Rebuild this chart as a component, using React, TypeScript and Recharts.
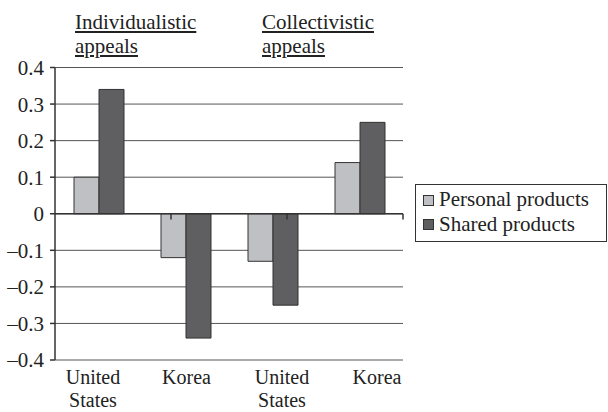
import React from 'react';
import { BarChart, Bar, XAxis, YAxis, CartesianGrid, ReferenceLine, Legend } from 'recharts';

const categories = ['United States', 'Korea', 'United States', 'Korea'];
const personalProducts = [0.1, -0.12, -0.13, 0.14];
const sharedProducts = [0.34, -0.34, -0.25, 0.25];
const yTicks = [-0.4, -0.3, -0.2, -0.1, 0, 0.1, 0.2, 0.3, 0.4];
const groupHeaders = [['Individualistic', 'appeals'], ['Collectivistic', 'appeals']];
const seriesNames = ['Personal products', 'Shared products'];
const seriesColors = ['#bfc0c4', '#5f5f61'];
const boundaries = [1, 2, 3, 4];
const labelShift = [-5.5, 1, 9.5, 17.5];
const headerLeft = [75, 262];

const data = categories.map((c, i) => ({
  key: 'c' + i,
  personal: personalProducts[i],
  shared: sharedProducts[i],
}));

const FONT = "'Liberation Serif', Tinos, 'Times New Roman', Times, 'DejaVu Serif', 'Noto Serif', serif";

const fmt = (v: number) => {
  if (v === 0) return '0';
  const s = Math.abs(v).toFixed(1);
  return v < 0 ? '\u2013' + s : s;
};

const XTick = (props: any) => {
  const { x, y, payload } = props;
  const idx = Number(String(payload.value).slice(1));
  const lines = categories[idx].split(' ');
  const cx = x + labelShift[idx];
  return (
    <text x={cx} y={y} textAnchor="middle" style={{ fontFamily: FONT }} fontSize={20} fill="#222">
      {lines.map((l, i) => (
        <tspan key={i} x={cx} y={y + 23.5 + i * 23}>
          {l}
        </tspan>
      ))}
    </text>
  );
};

const LegendContent = () => (
  <div
    style={{
      border: '1px solid #333',
      width: 190,
      height: 54,
      boxSizing: 'content-box',
      paddingTop: 2,
      fontFamily: FONT,
      fontSize: 21,
      color: '#222',
      background: '#fff',
    }}
  >
    {seriesNames.map((n, i) => (
      <div key={n} style={{ display: 'flex', alignItems: 'center', height: 24.5, lineHeight: '24.5px', paddingLeft: 7 }}>
        <span
          style={{
            display: 'inline-block',
            width: 9,
            height: 9,
            border: '1px solid #333',
            background: seriesColors[i],
            marginRight: 5,
            marginTop: 2,
          }}
        />
        <span>{n}</span>
      </div>
    ))}
  </div>
);

export default function App() {
  return (
    <div style={{ position: 'absolute', left: 0, top: 0, width: 608, height: 412, background: '#fff', fontFamily: FONT }}>
      {groupHeaders.map((h, i) => (
        <div
          key={i}
          style={{
            position: 'absolute',
            left: headerLeft[i],
            top: 10,
            fontFamily: FONT,
            fontSize: 21,
            lineHeight: '24px',
            color: '#222',
            textDecoration: 'underline',
            textUnderlineOffset: 2,
            zIndex: 2,
          }}
        >
          {h[0]}
          <br />
          {h[1]}
        </div>
      ))}
      <BarChart
        width={608}
        height={412}
        data={data}
        margin={{ top: 67.5, right: 205, bottom: 0, left: 0 }}
        barGap={0}
        barSize={25}
        style={{ fontFamily: FONT }}
      >
        <CartesianGrid vertical={false} stroke="#555" strokeWidth={1} />
        <XAxis
          dataKey="key"
          axisLine={false}
          tickLine={false}
          tickSize={0}
          tickMargin={0}
          height={52}
          interval={0}
          tick={<XTick />}
        />
        <XAxis xAxisId="num" type="number" domain={[0, 4]} hide />
        <YAxis
          domain={[-0.4, 0.4]}
          ticks={yTicks}
          width={55}
          tickFormatter={fmt}
          axisLine={{ stroke: '#333', strokeWidth: 1.5 }}
          tickLine={{ stroke: '#333', strokeWidth: 1.5 }}
          tickSize={5}
          tickMargin={6}
          tick={{ fontFamily: FONT, fontSize: 21, fill: '#222', style: { fontFamily: FONT } }}
          interval={0}
        />
        <Legend
          layout="horizontal"
          verticalAlign="middle"
          align="center"
          wrapperStyle={{ position: 'absolute', left: 415, top: 184, width: 192 }}
          content={<LegendContent />}
        />
        <Bar dataKey="personal" name={seriesNames[0]} fill={seriesColors[0]} stroke="#333" strokeWidth={1} isAnimationActive={false} />
        <Bar dataKey="shared" name={seriesNames[1]} fill={seriesColors[1]} stroke="#333" strokeWidth={1} isAnimationActive={false} />
        <ReferenceLine y={0} stroke="#333" strokeWidth={1.5} />
        {boundaries.map((b) => (
          <ReferenceLine
            key={b}
            xAxisId="num"
            segment={[
              { x: b, y: 0 },
              { x: b, y: -0.016 },
            ]}
            stroke="#333"
            strokeWidth={1.5}
          />
        ))}
      </BarChart>
    </div>
  );
}
